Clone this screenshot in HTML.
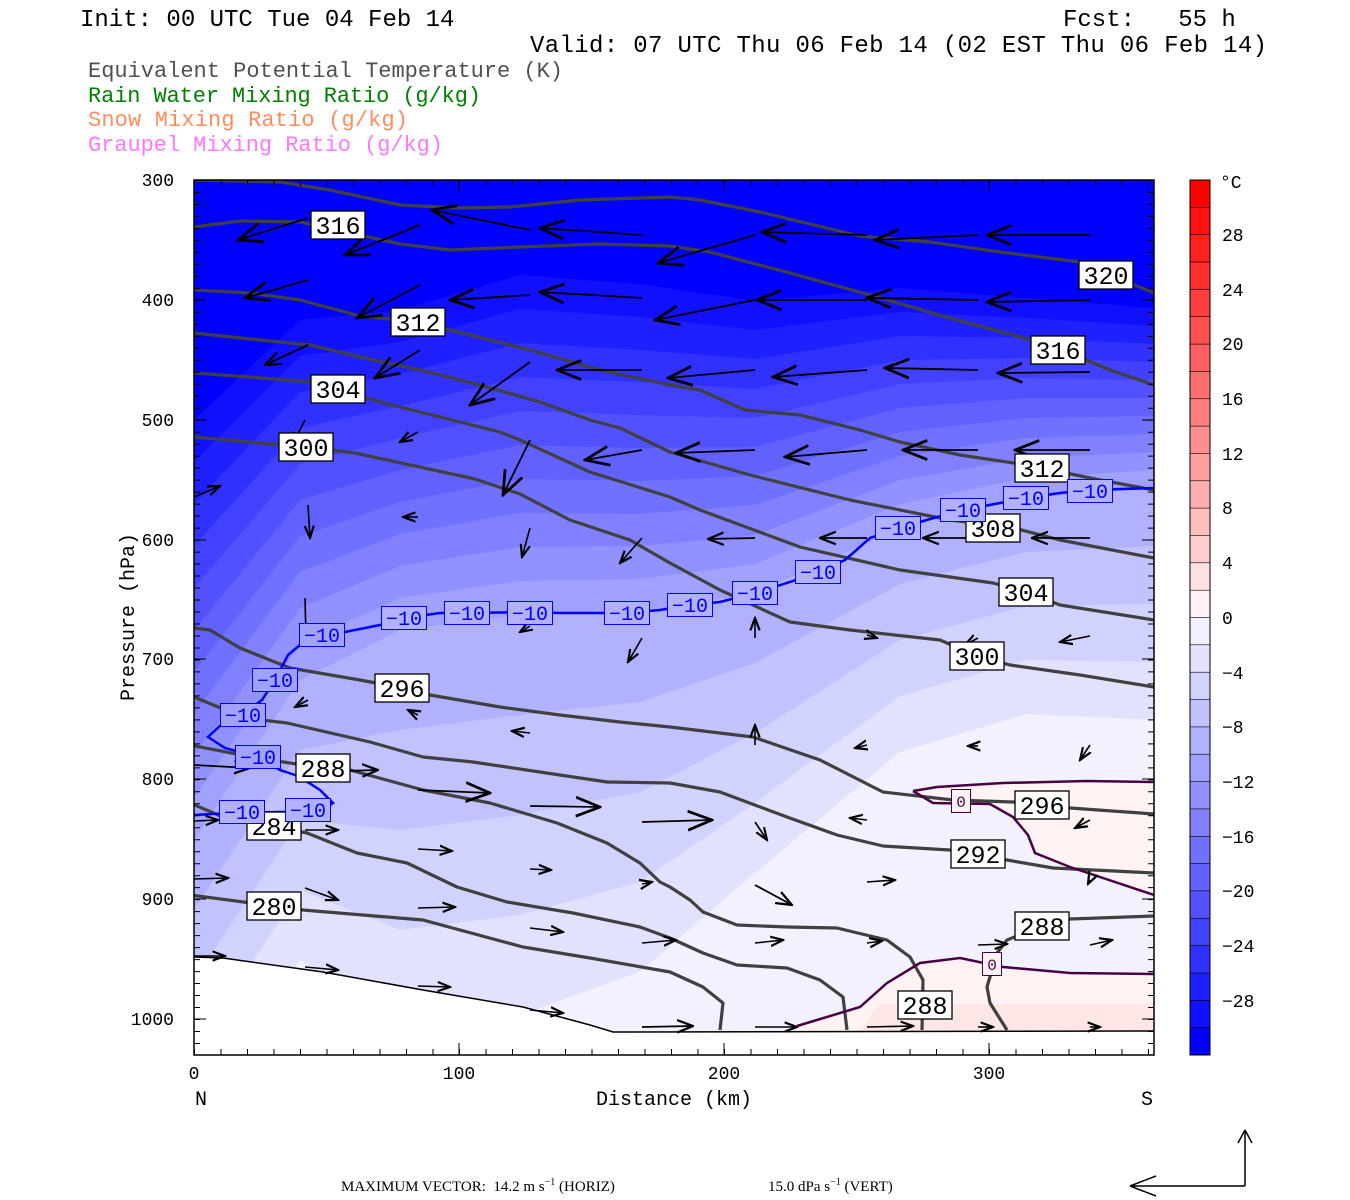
<!DOCTYPE html>
<html><head><meta charset="utf-8"><style>
html,body{margin:0;padding:0;background:#fff;width:1350px;height:1200px;overflow:hidden}
svg{display:block}
</style></head><body>
<svg width="1350" height="1200" xmlns="http://www.w3.org/2000/svg" font-family="'Liberation Mono', monospace">
<defs>
<clipPath id="pc"><rect x="194" y="180" width="960" height="875"/></clipPath>
<marker id="ah" markerUnits="userSpaceOnUse" markerWidth="26" markerHeight="26" refX="14" refY="7" orient="auto" viewBox="0 0 15 14">
<path d="M0,1.5 L14,7 L0,12.5" fill="none" stroke="#000" stroke-width="1.6"/></marker>
<marker id="am" markerUnits="userSpaceOnUse" markerWidth="17" markerHeight="17" refX="14" refY="7" orient="auto" viewBox="0 0 15 14">
<path d="M0,1.5 L14,7 L0,12.5" fill="none" stroke="#000" stroke-width="2"/></marker>
<marker id="as" markerUnits="userSpaceOnUse" markerWidth="14" markerHeight="14" refX="8" refY="4" orient="auto" viewBox="0 0 9 8">
<path d="M0,1 L8,4 L0,7" fill="none" stroke="#000" stroke-width="1.4"/></marker>
</defs>
<rect width="1350" height="1200" fill="#fff"/>
<g clip-path="url(#pc)">
<rect x="194" y="180" width="960" height="875" fill="#0000ff"/>
<g stroke="none">
<path fill="rgb(16,16,255)" d="M194,1060 L194,420 300,320 400,310 520,275 640,284 755,301 900,288 1026,298 1154,308 1154,1060Z"/>
<path fill="rgb(32,32,255)" d="M194,1060 L194,462 300,356 400,342 520,309 640,317 755,330 900,312 1026,318 1154,326 1154,1060Z"/>
<path fill="rgb(48,48,255)" d="M194,1060 L194,504 300,392 400,374 520,343 640,350 755,359 900,336 1026,338 1154,344 1154,1060Z"/>
<path fill="rgb(65,65,255)" d="M194,1060 L194,546 300,428 400,406 520,377 640,382 755,389 900,360 1026,358 1154,362 1154,1060Z"/>
<path fill="rgb(81,81,255)" d="M194,1060 L194,588 300,464 400,438 520,411 640,415 755,418 900,384 1026,378 1154,380 1154,1060Z"/>
<path fill="rgb(97,97,255)" d="M194,1060 L194,630 300,500 400,470 520,445 640,448 755,447 900,408 1026,398 1154,398 1154,1060Z"/>
<path fill="rgb(113,113,255)" d="M194,1060 L194,672 300,536 400,502 520,479 640,481 755,476 900,432 1026,418 1154,416 1154,1060Z"/>
<path fill="rgb(129,129,255)" d="M194,1060 L194,714 300,572 400,534 520,513 640,514 755,505 900,456 1026,438 1154,434 1154,1060Z"/>
<path fill="rgb(145,145,255)" d="M194,1060 L194,756 300,608 400,566 520,547 640,546 755,535 900,480 1026,458 1154,452 1154,1060Z"/>
<path fill="rgb(161,161,255)" d="M194,1060 L194,798 300,644 400,598 520,581 640,579 755,564 900,504 1026,478 1154,470 1154,1060Z"/>
<path fill="rgb(177,177,255)" d="M194,1060 L194,840 300,680 400,630 520,615 640,612 755,593 900,528 1026,498 1154,488 1154,1060Z"/>
<path fill="rgb(194,194,255)" d="M194,1060 L194,910 300,750 400,730 520,715 640,702 755,663 900,584 1026,552 1154,546 1154,1060Z"/>
<path fill="rgb(210,210,255)" d="M194,1060 L194,980 300,820 400,830 520,815 640,792 755,733 900,640 1026,606 1154,604 1154,1060Z"/>
<path fill="rgb(226,226,255)" d="M194,1060 L194,1050 300,890 400,930 520,915 640,882 755,803 900,696 1026,660 1154,662 1154,1060Z"/>
<path fill="rgb(242,242,255)" d="M194,1060 L194,1120 300,960 400,1030 520,1015 640,972 755,873 900,752 1026,714 1154,720 1154,1060Z"/>
</g>
<path d="M913,791 L937,787 1003,783 1087,781 1154,782 1154,895 1070,867 1035,853 1028,835 1013,817 990,804 933,803Z" fill="#fff3f3"/>
<path d="M797,1026 L860,1007 887,983 920,963 960,958 1003,967 1070,973 1154,974 1154,1031 797,1031Z" fill="#fff2f2"/>
<path d="M880,1004 L1154,1004 1154,1031 860,1031Z" fill="#fde6e6"/>
<path d="M194,957 L223,958 323,972 423,990 523,1007 590,1025 613,1032 1154,1031 1154,1055 194,1055Z" fill="#fff"/>
<path d="M194,957 L223,958 323,972 423,990 523,1007 590,1025 613,1032 1154,1031" fill="none" stroke="#000" stroke-width="1.5"/>
<g fill="none" stroke="#404040" stroke-width="3.2" stroke-linejoin="round">
<path d="M194,180 L280,182 330,190 400,205 460,208 510,207 580,200 670,197 700,200 760,212 860,236 930,242 1000,252 1080,262 1110,275 1154,293"/>
<path d="M194,227 L240,221 300,222 350,233 400,244 450,250 520,247 600,244 670,246 710,252 790,273 870,295 950,318 1020,337 1050,345 1110,370 1154,385"/>
<path d="M194,290 L250,293 300,300 360,316 418,322 450,330 530,350 600,370 670,385 700,390 745,410 800,415 860,430 900,442 960,455 1020,464 1042,468 1100,480 1154,490"/>
<path d="M194,333 L260,340 310,345 360,357 420,370 480,385 540,402 590,420 620,428 670,452 750,475 850,500 950,520 1010,527 1060,540 1154,558"/>
<path d="M194,373 L250,377 310,382 338,389 380,402 440,417 500,432 520,440 590,472 670,497 700,510 800,547 900,570 993,583 1026,592 1060,605 1154,620"/>
<path d="M194,437 L260,443 306,447 355,453 475,479 520,494 570,520 630,540 670,563 720,590 790,622 850,630 940,640 977,656 1010,665 1080,675 1154,687"/>
<path d="M194,628 L210,630 240,648 290,668 360,680 402,688 430,695 500,707 560,715 620,722 670,727 753,737 820,760 883,792 953,800 1013,802 1070,808 1154,814"/>
<path d="M194,697 L245,718 287,723 370,742 423,757 473,762 607,782 670,783 720,792 787,817 837,835 883,846 950,850 1007,860 1053,868 1154,873"/>
<path d="M190,745 L257,758 323,768 350,770 423,790 490,803 557,823 607,843 640,863 660,882 670,887 690,900 703,912 737,925 787,927 837,928 887,940 910,957 923,980 922,1030"/>
<path d="M190,803 L223,817 274,826 307,833 357,853 407,863 457,887 507,902 573,913 640,927 670,938 703,953 737,965 787,968 820,980 843,997 847,1030"/>
<path d="M190,895 L274,906 303,910 423,920 523,947 590,958 670,972 703,987 723,1003 720,1030"/>
<path d="M1154,916 L1070,919 1042,926 1007,940 997,953 987,987 990,1003 1007,1030"/>
</g>
<g fill="none" stroke="#4a0045" stroke-width="2.5">
<path d="M913,791 L937,787 1003,783 1087,781 1154,782 M913,791 L933,803 990,804 1013,817 1028,835 1035,853 1070,867 1154,895"/>
<path d="M797,1026 L860,1007 887,983 920,963 960,958 1003,967 1070,973 1154,974"/>
</g>
<path d="M194,815 L230,813 280,812 320,812 333,803 320,790 298,776 280,770 258,757 225,748 208,737 222,724 243,714 262,700 275,680 288,655 300,645 322,635 345,632 380,625 404,618 440,613 467,613 530,612 560,613 627,613 660,610 690,605 720,602 755,593 790,582 818,572 845,560 870,538 900,528 930,519 963,510 1000,503 1026,498 1060,493 1090,490 1154,488" fill="none" stroke="#0000ff" stroke-width="2.5"/>
<g stroke="#000" stroke-width="1.8" marker-end="url(#ah)">
<line x1="308" y1="218" x2="238" y2="240"/><line x1="420" y1="225" x2="345" y2="255"/><line x1="530" y1="230" x2="432" y2="210"/><line x1="642" y1="235" x2="540" y2="228"/><line x1="755" y1="235" x2="658" y2="263"/><line x1="867" y1="235" x2="762" y2="232"/><line x1="978" y1="235" x2="875" y2="240"/><line x1="1090" y1="235" x2="987" y2="235"/>
<line x1="308" y1="280" x2="245" y2="298"/><line x1="420" y1="285" x2="357" y2="318"/><line x1="530" y1="295" x2="450" y2="300"/><line x1="642" y1="298" x2="540" y2="292"/><line x1="755" y1="300" x2="655" y2="320"/><line x1="867" y1="300" x2="757" y2="300"/><line x1="978" y1="300" x2="867" y2="298"/><line x1="1090" y1="300" x2="987" y2="302"/>
<line x1="420" y1="350" x2="375" y2="378"/><line x1="530" y1="362" x2="470" y2="405"/><line x1="642" y1="370" x2="557" y2="370"/><line x1="755" y1="370" x2="668" y2="378"/><line x1="867" y1="370" x2="773" y2="377"/><line x1="978" y1="370" x2="885" y2="368"/><line x1="1090" y1="372" x2="998" y2="373"/>
<line x1="530" y1="440" x2="503" y2="495"/><line x1="642" y1="450" x2="585" y2="460"/><line x1="755" y1="450" x2="676" y2="453"/><line x1="867" y1="450" x2="785" y2="457"/><line x1="978" y1="450" x2="903" y2="450"/><line x1="1090" y1="450" x2="1015" y2="450"/>
<line x1="418" y1="790" x2="490" y2="793"/><line x1="530" y1="806" x2="600" y2="807"/><line x1="642" y1="822" x2="712" y2="820"/>
</g>
<g stroke="#000" stroke-width="1.8" marker-end="url(#am)">
<line x1="308" y1="345" x2="265" y2="365"/>
<line x1="755" y1="538" x2="708" y2="539"/><line x1="867" y1="538" x2="820" y2="538"/><line x1="978" y1="538" x2="923" y2="538"/><line x1="1090" y1="538" x2="1032" y2="538"/>
<line x1="194" y1="765" x2="250" y2="768"/><line x1="305" y1="772" x2="378" y2="770"/><line x1="755" y1="885" x2="792" y2="905"/><line x1="642" y1="1027" x2="693" y2="1026"/>
</g>
<g stroke="#000" stroke-width="1.6" marker-end="url(#as)">
<line x1="418" y1="432" x2="400" y2="442"/><line x1="305" y1="420" x2="292" y2="445"/><line x1="194" y1="497" x2="220" y2="486"/>
<line x1="308" y1="505" x2="310" y2="538"/><line x1="418" y1="517" x2="403" y2="517"/><line x1="530" y1="528" x2="522" y2="557"/><line x1="642" y1="538" x2="620" y2="563"/>
<line x1="305" y1="598" x2="306" y2="637"/><line x1="530" y1="626" x2="520" y2="632"/><line x1="642" y1="638" x2="628" y2="662"/><line x1="755" y1="638" x2="755" y2="618"/><line x1="867" y1="635" x2="877" y2="638"/><line x1="978" y1="638" x2="965" y2="645"/><line x1="1090" y1="636" x2="1060" y2="642"/>
<line x1="308" y1="700" x2="295" y2="707"/><line x1="418" y1="715" x2="408" y2="710"/><line x1="530" y1="733" x2="512" y2="731"/><line x1="755" y1="745" x2="755" y2="725"/><line x1="867" y1="745" x2="855" y2="748"/><line x1="978" y1="746" x2="968" y2="746"/><line x1="1090" y1="745" x2="1080" y2="760"/>
<line x1="755" y1="822" x2="767" y2="840"/><line x1="867" y1="820" x2="850" y2="818"/><line x1="1090" y1="820" x2="1075" y2="828"/>
<line x1="194" y1="821" x2="218" y2="820"/><line x1="305" y1="830" x2="338" y2="830"/><line x1="418" y1="849" x2="452" y2="851"/><line x1="530" y1="869" x2="551" y2="870"/><line x1="642" y1="884" x2="652" y2="882"/><line x1="867" y1="882" x2="895" y2="880"/><line x1="1090" y1="880" x2="1088" y2="884"/>
<line x1="194" y1="879" x2="228" y2="878"/><line x1="305" y1="888" x2="338" y2="900"/><line x1="418" y1="908" x2="455" y2="907"/><line x1="530" y1="928" x2="563" y2="932"/><line x1="642" y1="943" x2="676" y2="940"/><line x1="755" y1="943" x2="783" y2="940"/><line x1="867" y1="943" x2="882" y2="941"/><line x1="978" y1="945" x2="1007" y2="944"/><line x1="1090" y1="945" x2="1112" y2="940"/>
<line x1="194" y1="956" x2="225" y2="956"/><line x1="305" y1="967" x2="338" y2="970"/><line x1="418" y1="986" x2="450" y2="987"/><line x1="530" y1="1010" x2="563" y2="1013"/><line x1="755" y1="1027" x2="797" y2="1027"/><line x1="867" y1="1027" x2="913" y2="1026"/><line x1="978" y1="1027" x2="993" y2="1027"/><line x1="1090" y1="1027" x2="1100" y2="1027"/>
</g>
<g fill="#fff" stroke="#000" stroke-width="1.3">
<rect x="311" y="211" width="54" height="28"/><rect x="391" y="308" width="54" height="28"/><rect x="311" y="375" width="54" height="28"/><rect x="279" y="433" width="54" height="28"/>
<rect x="1079" y="261" width="54" height="28"/><rect x="1031" y="336" width="54" height="28"/><rect x="1015" y="454" width="54" height="28"/><rect x="966" y="514" width="54" height="28"/><rect x="999" y="578" width="54" height="28"/><rect x="950" y="642" width="54" height="28"/>
<rect x="375" y="674" width="54" height="28"/><rect x="296" y="754" width="54" height="28"/><rect x="247" y="812" width="54" height="28"/><rect x="247" y="892" width="54" height="28"/>
<rect x="1015" y="791" width="54" height="28"/><rect x="951" y="840" width="54" height="28"/><rect x="1015" y="912" width="54" height="28"/><rect x="898" y="991" width="54" height="28"/>
</g>
<g font-size="25" text-anchor="middle" fill="#000">
<text x="338" y="234">316</text><text x="418" y="331">312</text><text x="338" y="398">304</text><text x="306" y="456">300</text>
<text x="1106" y="284">320</text><text x="1058" y="359">316</text><text x="1042" y="477">312</text><text x="993" y="537">308</text><text x="1026" y="601">304</text><text x="977" y="665">300</text>
<text x="402" y="697">296</text><text x="323" y="777">288</text><text x="274" y="835">284</text><text x="274" y="915">280</text>
<text x="1042" y="814">296</text><text x="978" y="863">292</text><text x="1042" y="935">288</text><text x="925" y="1014">288</text>
</g>
<g stroke="#0000ff" stroke-width="1">
<rect x="220.5" y="703.5" width="45" height="23" fill="rgb(161,161,255)"/><rect x="235.5" y="745.5" width="45" height="23" fill="rgb(161,161,255)"/><rect x="252.5" y="668.5" width="45" height="23" fill="rgb(161,161,255)"/><rect x="299.5" y="623.5" width="45" height="23" fill="rgb(161,161,255)"/>
<rect x="381.5" y="606.5" width="45" height="23" fill="rgb(177,177,255)"/><rect x="444.5" y="601.5" width="45" height="23" fill="rgb(177,177,255)"/><rect x="507.5" y="601.5" width="45" height="23" fill="rgb(177,177,255)"/><rect x="604.5" y="601.5" width="45" height="23" fill="rgb(177,177,255)"/>
<rect x="667.5" y="593.5" width="45" height="23" fill="rgb(177,177,255)"/><rect x="732.5" y="581.5" width="45" height="23" fill="rgb(177,177,255)"/><rect x="795.5" y="560.5" width="45" height="23" fill="rgb(177,177,255)"/><rect x="875.5" y="516.5" width="45" height="23" fill="rgb(177,177,255)"/>
<rect x="940.5" y="498.5" width="45" height="23" fill="rgb(177,177,255)"/><rect x="1003.5" y="486.5" width="45" height="23" fill="rgb(177,177,255)"/><rect x="1067.5" y="479.5" width="45" height="23" fill="rgb(177,177,255)"/><rect x="219.5" y="800.5" width="45" height="23" fill="rgb(177,177,255)"/><rect x="285.5" y="798.5" width="45" height="23" fill="rgb(177,177,255)"/>
</g>
<g font-size="20" text-anchor="middle" fill="#0000ff">
<text x="243" y="722">−10</text><text x="258" y="764">−10</text><text x="275" y="687">−10</text><text x="322" y="642">−10</text>
<text x="404" y="625">−10</text><text x="467" y="620">−10</text><text x="530" y="620">−10</text><text x="627" y="620">−10</text>
<text x="690" y="612">−10</text><text x="755" y="600">−10</text><text x="818" y="579">−10</text><text x="898" y="535">−10</text>
<text x="963" y="517">−10</text><text x="1026" y="505">−10</text><text x="1090" y="498">−10</text><text x="242" y="819">−10</text><text x="308" y="817">−10</text>
</g>
<g stroke="#4a0045" stroke-width="1"><rect x="951.5" y="789.5" width="19" height="23" fill="#fff3f3"/><rect x="982.5" y="952.5" width="19" height="23" fill="#fff2f2"/></g>
<g font-size="16" text-anchor="middle" fill="#4a0045"><text x="961" y="807">0</text><text x="992" y="970">0</text></g>
</g>
<rect x="194" y="180" width="960" height="875" fill="none" stroke="#000" stroke-width="1.5"/>
<g stroke="#000" fill="none">
<line x1="197" y1="180" x2="197" y2="1055" stroke-width="6" stroke-dasharray="1 10.986"/>
<line x1="1151" y1="180" x2="1151" y2="1055" stroke-width="6" stroke-dasharray="1 10.986"/>
<line x1="194" y1="1052" x2="1154" y2="1052" stroke-width="6" stroke-dasharray="1 25.5"/>
<line x1="194" y1="183" x2="1154" y2="183" stroke-width="6" stroke-dasharray="1 25.5"/>
<path stroke-width="1" d="M194,300 h12 M194,420 h12 M194,540 h12 M194,659 h12 M194,779 h12 M194,899 h12 M194,1019 h12 M1154,300 h-12 M1154,420 h-12 M1154,540 h-12 M1154,659 h-12 M1154,779 h-12 M1154,899 h-12 M1154,1019 h-12 M459,1055 v-12 M724,1055 v-12 M989,1055 v-12 M459,180 v12 M724,180 v12 M989,180 v12"/>
</g>
<g stroke="#000" stroke-width="0.6">
<rect x="1190" y="180.0" width="20" height="27.8" fill="rgb(255,0,0)"/><rect x="1190" y="207.3" width="20" height="27.8" fill="rgb(255,16,16)"/><rect x="1190" y="234.7" width="20" height="27.8" fill="rgb(255,32,32)"/><rect x="1190" y="262.0" width="20" height="27.8" fill="rgb(255,47,47)"/>
<rect x="1190" y="289.4" width="20" height="27.8" fill="rgb(255,63,63)"/><rect x="1190" y="316.7" width="20" height="27.8" fill="rgb(255,79,79)"/><rect x="1190" y="344.1" width="20" height="27.8" fill="rgb(255,95,95)"/><rect x="1190" y="371.4" width="20" height="27.8" fill="rgb(255,111,111)"/>
<rect x="1190" y="398.8" width="20" height="27.8" fill="rgb(255,126,126)"/><rect x="1190" y="426.1" width="20" height="27.8" fill="rgb(255,142,142)"/><rect x="1190" y="453.4" width="20" height="27.8" fill="rgb(255,158,158)"/><rect x="1190" y="480.8" width="20" height="27.8" fill="rgb(255,174,174)"/>
<rect x="1190" y="508.1" width="20" height="27.8" fill="rgb(255,190,190)"/><rect x="1190" y="535.5" width="20" height="27.8" fill="rgb(255,205,205)"/><rect x="1190" y="562.8" width="20" height="27.8" fill="rgb(255,225,225)"/><rect x="1190" y="590.2" width="20" height="27.8" fill="rgb(255,242,242)"/>
<rect x="1190" y="617.5" width="20" height="27.8" fill="rgb(242,242,255)"/><rect x="1190" y="644.8" width="20" height="27.8" fill="rgb(226,226,255)"/><rect x="1190" y="672.2" width="20" height="27.8" fill="rgb(210,210,255)"/><rect x="1190" y="699.5" width="20" height="27.8" fill="rgb(194,194,255)"/>
<rect x="1190" y="726.9" width="20" height="27.8" fill="rgb(177,177,255)"/><rect x="1190" y="754.2" width="20" height="27.8" fill="rgb(161,161,255)"/><rect x="1190" y="781.6" width="20" height="27.8" fill="rgb(145,145,255)"/><rect x="1190" y="808.9" width="20" height="27.8" fill="rgb(129,129,255)"/>
<rect x="1190" y="836.3" width="20" height="27.8" fill="rgb(113,113,255)"/><rect x="1190" y="863.6" width="20" height="27.8" fill="rgb(97,97,255)"/><rect x="1190" y="890.9" width="20" height="27.8" fill="rgb(81,81,255)"/><rect x="1190" y="918.3" width="20" height="27.8" fill="rgb(65,65,255)"/>
<rect x="1190" y="945.6" width="20" height="27.8" fill="rgb(48,48,255)"/><rect x="1190" y="973.0" width="20" height="27.8" fill="rgb(32,32,255)"/><rect x="1190" y="1000.3" width="20" height="27.8" fill="rgb(16,16,255)"/><rect x="1190" y="1027.7" width="20" height="27.3" fill="rgb(0,0,255)"/>
</g>
<rect x="1190" y="180" width="20" height="875" fill="none" stroke="#000" stroke-width="1"/>
<g font-size="18" fill="#000">
<text x="1220" y="188">°C</text>
<text x="1222" y="241">28</text><text x="1222" y="296">24</text><text x="1222" y="350">20</text><text x="1222" y="405">16</text><text x="1222" y="460">12</text><text x="1222" y="514">8</text><text x="1222" y="569">4</text><text x="1222" y="624">0</text>
<text x="1222" y="679">−4</text><text x="1222" y="733">−8</text><text x="1222" y="788">−12</text><text x="1222" y="843">−16</text><text x="1222" y="897">−20</text><text x="1222" y="952">−24</text><text x="1222" y="1007">−28</text>
</g>
<g font-size="24" fill="#000">
<text x="80" y="26">Init: 00 UTC Tue 04 Feb 14</text>
<text x="1063" y="26" xml:space="preserve">Fcst:   55 h</text>
<text x="530" y="52" textLength="737">Valid: 07 UTC Thu 06 Feb 14 (02 EST Thu 06 Feb 14)</text>
</g>
<g font-size="22">
<text x="88" y="77" fill="#505050" textLength="475">Equivalent Potential Temperature (K)</text>
<text x="88" y="102" fill="#008000" textLength="393">Rain Water Mixing Ratio (g/kg)</text>
<text x="88" y="126" fill="#ff8c5a" textLength="320">Snow Mixing Ratio (g/kg)</text>
<text x="88" y="151" fill="#ff77ff" textLength="355">Graupel Mixing Ratio (g/kg)</text>
</g>
<g font-size="18" fill="#000" text-anchor="end">
<text x="174" y="186">300</text><text x="174" y="306">400</text><text x="174" y="426">500</text><text x="174" y="546">600</text><text x="174" y="665">700</text><text x="174" y="785">800</text><text x="174" y="905">900</text><text x="174" y="1025">1000</text>
</g>
<text transform="translate(134,617) rotate(-90)" font-size="20" text-anchor="middle">Pressure (hPa)</text>
<g font-size="18" text-anchor="middle">
<text x="194" y="1079">0</text><text x="459" y="1079">100</text><text x="724" y="1079">200</text><text x="989" y="1079">300</text>
</g>
<g font-size="20">
<text x="195" y="1105">N</text><text x="1141" y="1105">S</text><text x="674" y="1105" text-anchor="middle">Distance (km)</text>
</g>
<text x="341" y="1191" font-family="'Liberation Serif', serif" font-size="15" xml:space="preserve">MAXIMUM VECTOR:  14.2 m s<tspan dy="-6" font-size="10">−1</tspan><tspan dy="6"> (HORIZ)</tspan></text>
<text x="768" y="1191" font-family="'Liberation Serif', serif" font-size="15">15.0 dPa s<tspan dy="-6" font-size="10">−1</tspan><tspan dy="6"> (VERT)</tspan></text>
<g stroke="#000" stroke-width="1.5" fill="none">
<path d="M1245,1186 L1130,1186 M1130,1186 L1156,1176 M1130,1186 L1156,1196"/>
<path d="M1245,1186 L1245,1130 M1245,1130 L1238,1143 M1245,1130 L1252,1143"/>
</g>
</svg>
</body></html>
